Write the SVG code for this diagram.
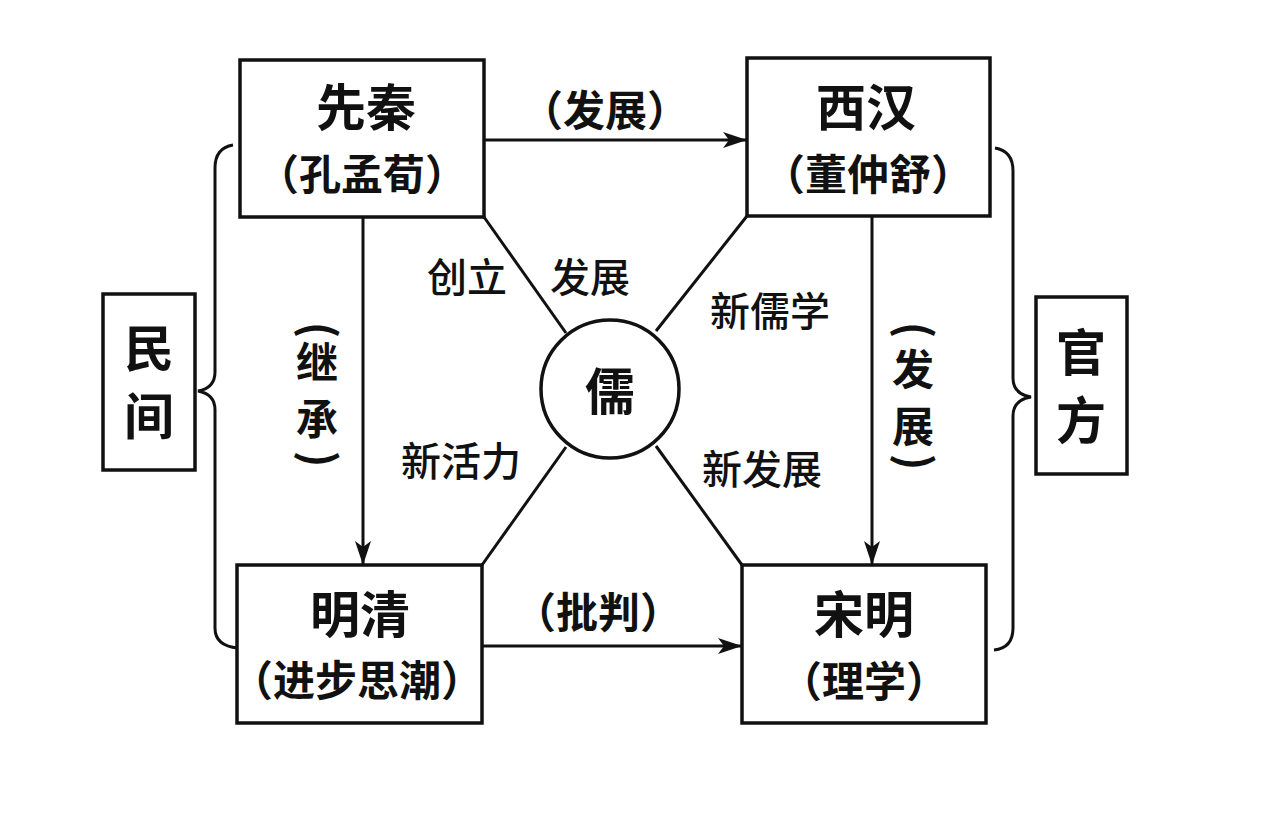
<svg xmlns="http://www.w3.org/2000/svg" width="1280" height="838" viewBox="0 0 1280 838">
<defs>
<style>
.box{fill:#fff;stroke:#111;stroke-width:3.5}
.ln{fill:none;stroke:#111;stroke-width:3}
.t{font-family:"Noto Sans CJK SC","Noto Sans CJK JP",sans-serif;fill:#111;text-anchor:middle;font-weight:700}
.big{font-size:50px}
.mid{font-size:42px}
.lab{font-size:40px;font-weight:500}
.par{font-size:44px;font-weight:700;dominant-baseline:central}
</style>
<marker id="ah" viewBox="0 0 24 16" refX="23" refY="8" markerWidth="24" markerHeight="16" markerUnits="userSpaceOnUse" orient="auto">
<path d="M0,0 L24,8 L0,16 L6,8 Z" fill="#111"/>
</marker>
</defs>
<rect width="1280" height="838" fill="#fff"/>
<g id="connectors">
<line class="ln" x1="484" y1="140" x2="746" y2="140" marker-end="url(#ah)"/>
<line class="ln" x1="482" y1="646" x2="741" y2="646" marker-end="url(#ah)"/>
<line class="ln" x1="363" y1="217" x2="363" y2="564" marker-end="url(#ah)"/>
<line class="ln" x1="872" y1="216" x2="872" y2="564" marker-end="url(#ah)"/>
<line class="ln" x1="484" y1="217" x2="566" y2="333"/>
<line class="ln" x1="747" y1="216" x2="656" y2="331"/>
<line class="ln" x1="482" y1="565" x2="566" y2="447"/>
<line class="ln" x1="742" y1="565" x2="656" y2="446"/>
<path class="ln" d="M233,145 Q215,148 215,168 L215,372 Q215,388 198,391 Q215,394 215,410 L215,628 Q215,646 238,648"/>
<path class="ln" d="M995,148 Q1013,151 1013,171 L1013,378 Q1013,394 1031,397 Q1013,400 1013,416 L1013,628 Q1013,648 994,650"/>
</g>
<g id="n-xianqin">
<rect class="box" x="240" y="60" width="244" height="157"/>
<text class="t big" x="366" y="126">先秦</text>
<text class="t mid" x="362" y="190">（孔孟荀）</text>
</g>
<g id="n-xihan">
<rect class="box" x="747" y="58" width="243" height="158"/>
<text class="t big" x="866" y="126">西汉</text>
<text class="t mid" x="868" y="190">（董仲舒）</text>
</g>
<g id="n-mingqing">
<rect class="box" x="237" y="565" width="245" height="158"/>
<text class="t big" x="360" y="633">明清</text>
<text class="t mid" x="357" y="696">（进步思潮）</text>
</g>
<g id="n-songming">
<rect class="box" x="742" y="565" width="244" height="158"/>
<text class="t big" x="864" y="633">宋明</text>
<text class="t mid" x="864" y="697">（理学）</text>
</g>
<g id="n-minjian">
<rect class="box" x="103" y="294" width="92" height="176"/>
<text class="t big" x="149" y="367">民</text>
<text class="t big" x="149" y="435">间</text>
</g>
<g id="n-guanfang">
<rect class="box" x="1036" y="297" width="91" height="177"/>
<text class="t big" x="1081" y="371">官</text>
<text class="t big" x="1081" y="439">方</text>
</g>
<g id="n-ru">
<circle class="box" cx="610" cy="389" r="69"/>
<text class="t big" x="610" y="410">儒</text>
</g>
<g id="labels">
<text class="t mid" x="605" y="126">（发展）</text>
<text class="t mid" x="598" y="628">（批判）</text>
<text class="t lab" x="467" y="292">创立</text>
<text class="t lab" x="590" y="292">发展</text>
<text class="t lab" x="770" y="326">新儒学</text>
<text class="t lab" x="461" y="476">新活力</text>
<text class="t lab" x="762" y="484">新发展</text>
<text class="t par" x="322" y="330" transform="rotate(90 322 330)">(</text>
<text class="t mid" x="317" y="378">继</text>
<text class="t mid" x="317" y="435">承</text>
<text class="t par" x="322" y="459" transform="rotate(90 322 459)">)</text>
<text class="t par" x="918" y="330" transform="rotate(90 918 330)">(</text>
<text class="t mid" x="913" y="385">发</text>
<text class="t mid" x="913" y="442">展</text>
<text class="t par" x="918" y="462" transform="rotate(90 918 462)">)</text>
</g>
</svg>
